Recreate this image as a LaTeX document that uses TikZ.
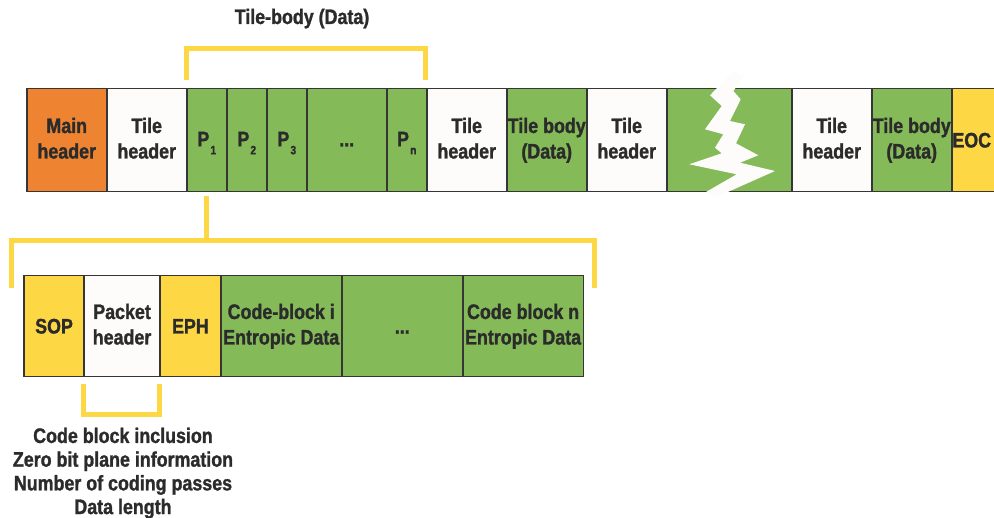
\documentclass[tikz,border=0pt]{standalone}
\usepackage{fontspec}
\newfontfamily\cond{Liberation Sans Bold}[FakeStretch=0.85, FakeBold=1.3]
\definecolor{orangec}{HTML}{EE8431}
\definecolor{greenc}{HTML}{85BA59}
\definecolor{yellowc}{HTML}{FDD744}
\definecolor{whitec}{HTML}{FDFCFB}
\definecolor{linec}{HTML}{363636}
\definecolor{txt}{HTML}{2B2B2B}
\newcommand{\twoline}[2]{\rule{0pt}{16pt}#1\\#2\rule[-5pt]{0pt}{5pt}}
\newcommand{\pk}[1]{P\kern1.2pt\raisebox{-8pt}[0pt][0pt]{\fontsize{12}{12}\selectfont #1}}
\tikzset{
  lbl/.style={font=\cond\fontsize{21}{25.5}\selectfont, text=txt, align=center, inner sep=0pt},
  cell/.style={lbl, draw=linec, line width=1.5pt, anchor=north west},
  toprow/.style={cell, minimum height=103pt},
  lowrow/.style={cell, minimum height=101pt},
  brk/.style={draw=yellowc, line width=5pt, line join=miter},
}
\begin{document}
\begin{tikzpicture}[x=1pt,y=-1pt]
\useasboundingbox (0,0) rectangle (994,518);
% top row
\node[toprow, fill=orangec, minimum width=80pt] (main) at (26,88) {\twoline{Main}{header}};
\node[toprow, fill=whitec, minimum width=80pt] (th1) at (106,88) {\twoline{Tile}{header}};
\node[toprow, fill=greenc, minimum width=40pt] (p1) at (186,88) {\raisebox{2.5pt}{\pk{1}}};
\node[toprow, fill=greenc, minimum width=40pt] (p2) at (226,88) {\raisebox{2.5pt}{\pk{2}}};
\node[toprow, fill=greenc, minimum width=40pt] (p3) at (266,88) {\raisebox{2.5pt}{\pk{3}}};
\node[toprow, fill=greenc, minimum width=80pt] (pd) at (306,88) {\raisebox{2.5pt}{\rule{0pt}{15pt}...}};
\node[toprow, fill=greenc, minimum width=40pt] (pn) at (386,88) {\raisebox{2.5pt}{\pk{n}}};
\node[toprow, fill=whitec, minimum width=80pt] (th2) at (426,88) {\twoline{Tile}{header}};
\node[toprow, fill=greenc, minimum width=80pt] (tb2) at (506,88) {\twoline{Tile body}{(Data)}};
\node[toprow, fill=whitec, minimum width=80pt] (th3) at (586,88) {\twoline{Tile}{header}};
\node[toprow, fill=greenc, minimum width=125pt] (gap) at (666,88) {};
\node[toprow, fill=whitec, minimum width=80pt] (th4) at (791,88) {\twoline{Tile}{header}};
\node[toprow, fill=greenc, minimum width=80pt] (tb4) at (871,88) {\twoline{Tile body}{(Data)}};
\node[toprow, fill=yellowc, minimum width=48pt] (eoc) at (951,88) {\hspace*{-4pt}EOC\hspace*{4pt}};
% break mark
\fill[whitec] (744.3,76) -- (733.3,91) -- (740.7,99.3) -- (730,121) -- (745,124.3) -- (736,143.3)
  -- (758.3,155.3) -- (740,162.7) -- (775,171) -- (715,197.7) -- (706,192) -- (736.7,174.3)
  -- (689.3,164.3) -- (721.7,153.3) -- (715,147.7) -- (723.3,134.3) -- (705,129.3)
  -- (721.7,106) -- (710,95.3) -- (734,70.7) -- cycle;
% title and top bracket
\node[lbl, anchor=base] (title) at (302,24) {Tile-body (Data)};
\coordinate (tbl) at (186.5,80);
\coordinate (tbr) at (425.5,80);
\draw[brk] (tbl) -- (186.5,48.5) -- (425.5,48.5) -- (tbr);
% lower row
\node[lowrow, fill=yellowc, minimum width=60pt] (sop) at (23.3,275) {SOP};
\node[lowrow, fill=whitec, minimum width=76pt] (ph) at (83.3,275) {\twoline{Packet}{header}};
\node[lowrow, fill=yellowc, minimum width=60.7pt] (eph) at (159.3,275) {EPH};
\node[lowrow, fill=greenc, minimum width=121pt] (cbi) at (220,275) {\twoline{Code-block i}{Entropic Data}};
\node[lowrow, fill=greenc, minimum width=121pt] (ldots) at (341,275) {\rule{0pt}{15pt}...};
\node[lowrow, fill=greenc, minimum width=120.7pt] (cbn) at (462,275) {\twoline{Code block n}{Entropic Data}};
% packet bracket
\coordinate (pstem) at (206,196);
\coordinate (pjoin) at (206,240.8);
\coordinate (pbl) at (11,288);
\coordinate (pbr) at (594,288);
\draw[brk] (pstem) -- (pjoin);
\draw[brk] (pbl) -- (11,240.8) -- (594,240.8) -- (pbr);
% header bracket
\coordinate (hbl) at (83.5,384);
\coordinate (hbr) at (159.7,384);
\draw[brk] (hbl) -- (83.5,414.2) -- (159.7,414.2) -- (hbr);
% info text
\node[lbl, font=\cond\fontsize{21}{23.7}\selectfont] (info) at (123,473)
  {\rule{0pt}{16pt}Code block inclusion\\Zero bit plane information\\Number of coding passes\\Data length\rule[-5pt]{0pt}{5pt}};
\end{tikzpicture}
\end{document}
